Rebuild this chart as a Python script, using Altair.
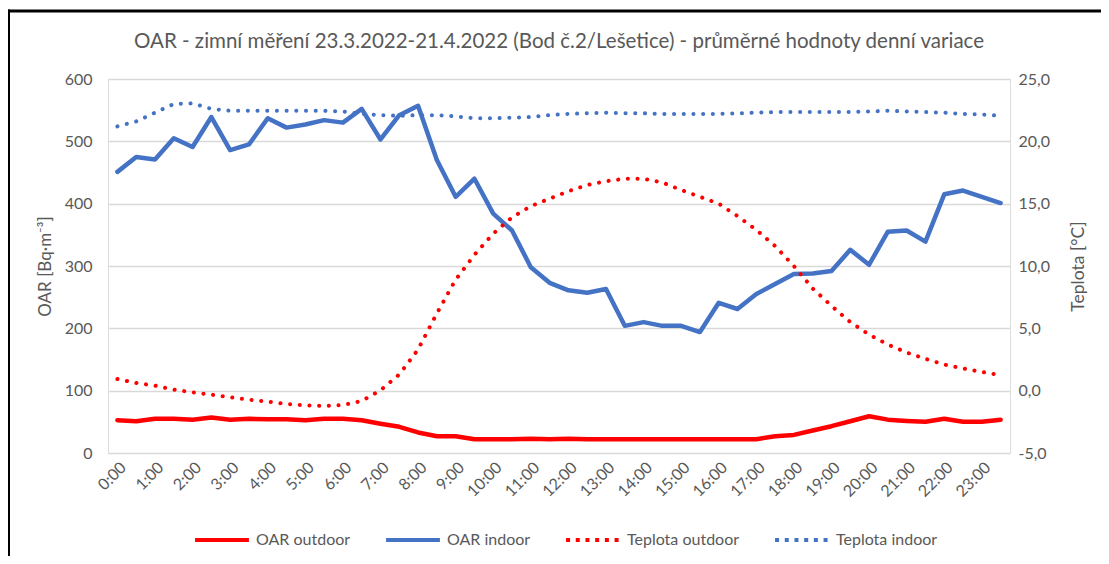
import altair as alt
import pandas as pd

times = [f"{h}:{m:02d}" for h in range(24) for m in (0, 30)]
hour_labels = [f"{h}:00" for h in range(24)]

oar_outdoor = [52.5, 51, 55, 55, 53.5, 57, 53.5, 55, 54, 54, 52.5, 55, 55, 52.5, 47, 42,
               33, 27, 27, 22, 22, 22, 23, 22, 23, 22, 22, 22, 22, 22, 22, 22,
               22, 22, 22, 27, 29, 36, 43, 51, 59, 53.5, 51.5, 50, 55, 50, 50, 53.5]
oar_indoor = [451, 475, 471, 505, 491, 539, 486, 495, 537, 522, 527, 534, 530, 552, 503, 542,
              557, 470, 411, 440, 384, 357, 298, 273, 261, 257, 263, 204, 210, 204, 204, 194,
              241, 231, 255, 271, 287, 288, 292, 326, 302, 355, 357, 339, 415, 421, 411, 401]
temp_outdoor = [0.94, 0.62, 0.4, 0.08, -0.13, -0.32, -0.53, -0.72, -0.88, -1.07, -1.17, -1.23,
                -1.15, -0.83, 0.03, 1.3, 3.3, 6.2, 8.9, 10.9, 12.6, 13.9, 14.8, 15.4,
                16.0, 16.5, 16.8, 17.0, 17.0, 16.7, 16.1, 15.55, 15.0, 14.0, 12.9, 11.6,
                10.0, 8.2, 6.8, 5.5, 4.5, 3.7, 3.06, 2.55, 2.1, 1.78, 1.5, 1.25]
temp_indoor = [21.2, 21.6, 22.3, 23.0, 23.05, 22.6, 22.45, 22.45, 22.45, 22.45, 22.45, 22.45,
               22.4, 22.2, 22.1, 22.05, 22.1, 22.1, 22.0, 21.85, 21.85, 21.9, 21.95, 22.1,
               22.2, 22.25, 22.3, 22.25, 22.25, 22.2, 22.2, 22.2, 22.2, 22.25, 22.3, 22.35,
               22.35, 22.35, 22.35, 22.35, 22.4, 22.45, 22.4, 22.35, 22.3, 22.2, 22.15, 22.05]

series_names = ["OAR outdoor", "OAR indoor", "Teplota outdoor", "Teplota indoor"]
series_colors = ["#FF0000", "#4472C4", "#FF0000", "#4472C4"]

title_text = "OAR - zimní měření 23.3.2022-21.4.2022 (Bod č.2/Lešetice) - průměrné hodnoty denní variace"

FONT = "Lato"
GRAY = "#595959"

def frame(values, name):
    return pd.DataFrame({"time": times, "value": values, "series": name})

df_oar_out = frame(oar_outdoor, series_names[0])
df_oar_in = frame(oar_indoor, series_names[1])
df_t_out = frame(temp_outdoor, series_names[2])
df_t_in = frame(temp_indoor, series_names[3])

x_enc = alt.X(
    "time:O",
    scale=alt.Scale(type="point", domain=times, padding=0.5),
    axis=alt.Axis(values=hour_labels, labelAngle=315, domain=False, ticks=False, grid=False,
                  labelPadding=6, labelFontSize=16, labelFont=FONT, labelColor=GRAY, title=None),
)

y_left = alt.Y(
    "value:Q",
    scale=alt.Scale(domain=[0, 600], nice=False),
    axis=alt.Axis(values=[0, 100, 200, 300, 400, 500, 600], grid=True, gridColor="#D9D9D9",
                  gridWidth=1.5, domain=False, ticks=False, labelPadding=16, labelFontSize=16,
                  labelFont=FONT, labelColor=GRAY, title="OAR [Bq·m⁻³]", titleFont=FONT,
                  titleFontSize=17, titleFontWeight="normal", titleColor=GRAY, titleAngle=270,
                  titleX=-63, titleY=187, titleAlign="center", titleBaseline="middle"),
)

y_right = alt.Y(
    "value:Q",
    scale=alt.Scale(domain=[-5, 25], nice=False),
    axis=alt.Axis(orient="right", values=[-5, 0, 5, 10, 15, 20, 25], grid=False, domain=False,
                  ticks=False, labelPadding=8, labelFontSize=16, labelFont=FONT, labelColor=GRAY,
                  labelExpr="replace(replace(format(datum.value, '.1f'), '.', ','), '\u2212', '-')",
                  title="Teplota [°C]", titleFont=FONT, titleFontSize=17.5,
                  titleFontWeight="normal", titleColor=GRAY, titleAngle=270,
                  titleX=68.5, titleY=187, titleAlign="center", titleBaseline="middle"),
)

solid = dict(strokeWidth=4.5, strokeCap="round", strokeJoin="round")
dotted = dict(strokeWidth=4, strokeCap="round", strokeDash=[0.1, 9.6])

l_oar_out = alt.Chart(df_oar_out).mark_line(color=series_colors[0], **solid).encode(x=x_enc, y=y_left)
l_oar_in = alt.Chart(df_oar_in).mark_line(color=series_colors[1], **solid).encode(x=x_enc, y=y_left)

legend_cfg = dict(orient="none", legendX=85, legendY=432, direction="horizontal", columns=4,
                  title=None, symbolType="stroke", symbolSize=2900, symbolStrokeWidth=4,
                  labelFontSize=16, labelFont=FONT, labelColor=GRAY, columnPadding=27,
                  labelOffset=5)

legend_layer = alt.Chart(df_oar_out).mark_line(strokeWidth=4).encode(
    x=x_enc,
    y=y_left,
    color=alt.Color("series:N", scale=alt.Scale(domain=series_names, range=series_colors),
                    legend=alt.Legend(**legend_cfg)),
    strokeDash=alt.StrokeDash("series:N",
                              scale=alt.Scale(domain=series_names,
                                              range=[[1, 0], [1, 0], [4, 5.7], [4, 5.7]]),
                              legend=alt.Legend(**legend_cfg)),
).transform_filter("false")

left = alt.layer(l_oar_out, l_oar_in, legend_layer)

l_t_out = alt.Chart(df_t_out).mark_line(color=series_colors[2], **dotted).encode(x=x_enc, y=y_right)
l_t_in = alt.Chart(df_t_in).mark_line(color=series_colors[3], **dotted).encode(x=x_enc, y=y_right)
right = alt.layer(l_t_out, l_t_in)

border_df = pd.DataFrame({"k": [0]})
border_left = alt.Chart(border_df).mark_rule(color="black", strokeWidth=3).encode(
    x=alt.value(-99.5), y=alt.value(-69.5), y2=alt.value(480))
border_top = alt.Chart(border_df).mark_rule(color="black", strokeWidth=3).encode(
    x=alt.value(-101), x2=alt.value(1000), y=alt.value(-68))

chart = alt.layer(left, right, border_left, border_top).resolve_scale(y="independent").properties(
    width=902,
    height=374,
    padding={"left": 100, "top": 71, "right": 91, "bottom": 103},
    autosize=alt.AutoSizeParams(type="none"),
    title=alt.Title(title_text, fontSize=20.5, font=FONT, color=GRAY, fontWeight="normal",
                    anchor="middle", frame="group", offset=-44),
).configure_view(stroke=None).configure(background="white")

chart.save("out.html", embed_options={"renderer": "svg", "actions": False})
